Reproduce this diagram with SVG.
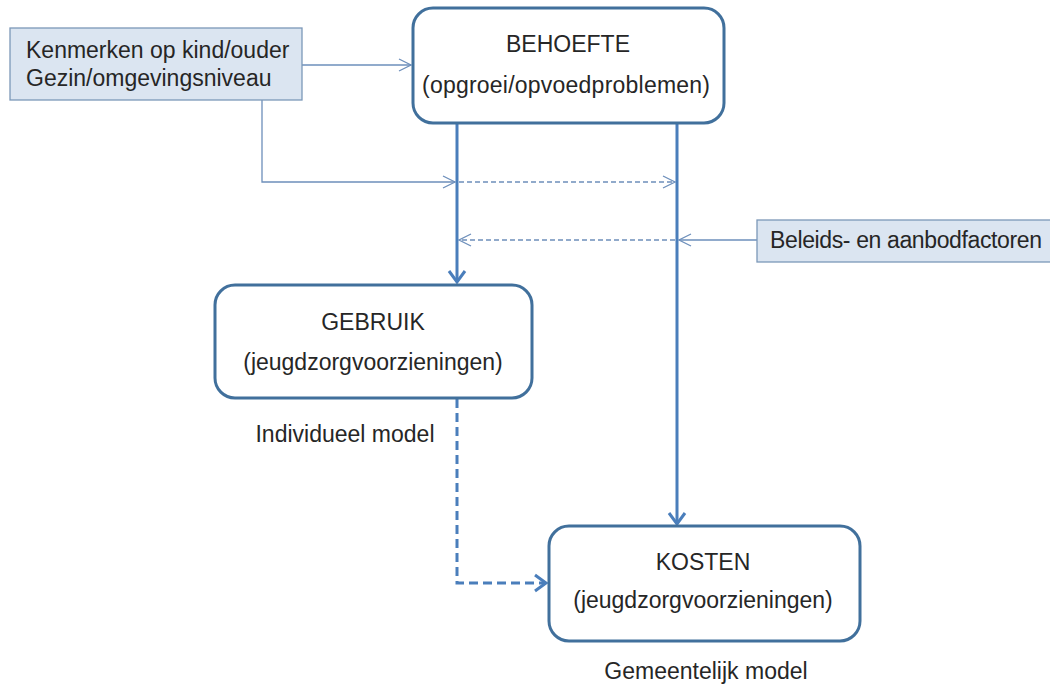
<svg xmlns="http://www.w3.org/2000/svg" width="1050" height="688" viewBox="0 0 1050 688">
<style>
text{font-family:"Liberation Sans",Arial,sans-serif;font-size:23px;fill:#262626}
.c{text-anchor:middle}
.node{fill:#ffffff;stroke:#41709c;stroke-width:3}
.side{fill:#dbe5f1;stroke:#7c98b8;stroke-width:1.3}
.thin{fill:none;stroke:#6d8fbb;stroke-width:1.3}
.thick{fill:none;stroke:#4a7ebb;stroke-width:3}
.dash{stroke-dasharray:5 3}
.tdash{stroke-dasharray:9 5}
</style>
<defs>
<marker id="aThin" markerUnits="userSpaceOnUse" markerWidth="16" markerHeight="16" viewBox="-14 -8 16 16" refX="0" refY="0" orient="auto" overflow="visible">
<path d="M-12,-6 L0,0 L-12,6" fill="none" stroke="#6d8fbb" stroke-width="1.3"/>
</marker>
<marker id="aThick" markerUnits="userSpaceOnUse" markerWidth="20" markerHeight="20" viewBox="-16 -10 20 20" refX="0" refY="0" orient="auto" overflow="visible">
<path d="M-11,-8 L0,0 L-11,8" fill="none" stroke="#4a7ebb" stroke-width="3"/>
</marker>
</defs>
<rect width="1050" height="688" fill="#ffffff"/>
<g id="connectors">
<path class="thin" d="M302,65 H411" marker-end="url(#aThin)"/>
<path class="thin" d="M262,100 V182 H455" marker-end="url(#aThin)"/>
<path class="thin dash" d="M459,182 H675" marker-end="url(#aThin)"/>
<path class="thin" d="M757,240 H679" marker-end="url(#aThin)"/>
<path class="thin dash" d="M675,240 H459" marker-end="url(#aThin)"/>
<path class="thick" d="M457,124 V282" marker-end="url(#aThick)"/>
<path class="thick" d="M677,124 V524" marker-end="url(#aThick)"/>
<path class="thick tdash" d="M457,399 V583 H546" marker-end="url(#aThick)"/>
</g>
<g id="kenmerken">
<rect class="side" x="10" y="28" width="292" height="72"/>
<text x="26" y="58">Kenmerken op kind/ouder</text>
<text x="26" y="86">Gezin/omgevingsniveau</text>
</g>
<g id="behoefte">
<rect class="node" x="413" y="8" width="311" height="115" rx="20"/>
<text class="c" x="568" y="52">BEHOEFTE</text>
<text class="c" x="566" y="93" textLength="288">(opgroei/opvoedproblemen)</text>
</g>
<g id="beleids">
<rect class="side" x="757" y="220" width="300" height="42"/>
<text x="770" y="248" textLength="272">Beleids- en aanbodfactoren</text>
</g>
<g id="gebruik">
<rect class="node" x="215" y="285" width="317" height="113" rx="20"/>
<text class="c" x="373" y="330">GEBRUIK</text>
<text class="c" x="373" y="370">(jeugdzorgvoorzieningen)</text>
<text class="c" x="345" y="442">Individueel model</text>
</g>
<g id="kosten">
<rect class="node" x="549" y="526" width="311" height="115" rx="20"/>
<text class="c" x="703" y="570">KOSTEN</text>
<text class="c" x="703" y="608">(jeugdzorgvoorzieningen)</text>
<text class="c" x="706" y="679">Gemeentelijk model</text>
</g>
</svg>
